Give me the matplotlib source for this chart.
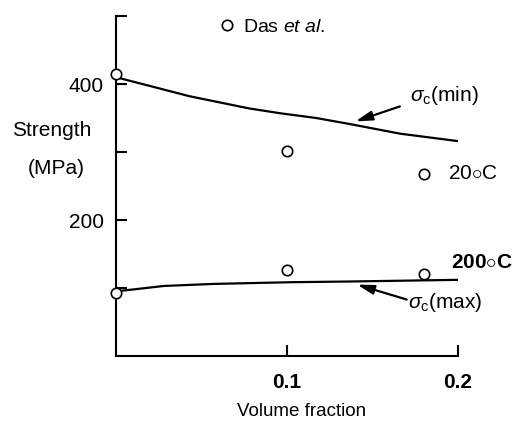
import matplotlib
matplotlib.use("Agg")
import matplotlib.pyplot as plt

plt.rcParams['font.family'] = ['Liberation Sans', 'DejaVu Sans']
plt.rcParams['mathtext.fontset'] = 'custom'
plt.rcParams['mathtext.rm'] = 'Liberation Sans'
plt.rcParams['mathtext.it'] = 'Liberation Sans:italic'
plt.rcParams['mathtext.bf'] = 'Liberation Sans:bold'

# measured points (Das et al.)
vf_20 = [0.0, 0.1, 0.18]
strength_20 = [415, 302, 268]
vf_200 = [0.0, 0.1, 0.18]
strength_200 = [92, 126, 121]

# model curves
vf_min = [0.0, 0.043, 0.078, 0.096, 0.117, 0.137, 0.166, 0.2]
sigma_min = [410, 382, 364, 357, 350, 341, 327, 316]
vf_max = [0.0, 0.028, 0.057, 0.102, 0.135, 0.2]
sigma_max = [95, 103, 106, 108.5, 109.5, 112]

yticks = [100, 200, 300, 400, 500]
ytick_labels = ['', '200', '', '400', '']
xticks = [0.1, 0.2]
xtick_labels = ['0.1', '0.2']

fig = plt.figure(figsize=(5.19, 4.22), dpi=100)
ax = fig.add_axes([116/519, 1-356/422, (458-116)/519, (356-16)/422])

ax.plot(vf_min, sigma_min, color='k', lw=1.6)
ax.plot(vf_max, sigma_max, color='k', lw=1.6)
pts = ax.plot(vf_20, strength_20, 'o', mfc='white', mec='k', ms=7.5, mew=1.2, clip_on=False, zorder=5)[0]
ax.plot(vf_200, strength_200, 'o', mfc='white', mec='k', ms=7.5, mew=1.2, clip_on=False, zorder=5)

ax.set_xlim(0, 0.2)
ax.set_ylim(0, 500)
ax.spines['top'].set_visible(False)
ax.spines['right'].set_visible(False)
for s in ['left', 'bottom']:
    ax.spines[s].set_linewidth(1.5)

ax.set_yticks(yticks)
ax.set_yticklabels(ytick_labels)
ax.set_xticks(xticks)
ax.set_xticklabels(xtick_labels, fontweight='bold')
ax.tick_params(direction='in', length=8, width=1.5, labelsize=15)
ax.tick_params(axis='y', pad=9)
ax.tick_params(axis='x', pad=12)

leg = ax.legend([pts], ['Das $\\it{et\\ al.}$'], loc='upper left',
                bbox_to_anchor=(0.245, 1.045), frameon=False, fontsize=14,
                handletextpad=0.3, handlelength=1.0)

arrow = dict(arrowstyle='-|>,head_length=1.0,head_width=0.28', color='k', lw=1.6,
             shrinkA=0, shrinkB=0)
ax.annotate('', xy=(0.14, 345), xytext=(0.166, 367), arrowprops=arrow)
ax.annotate('', xy=(0.141, 105), xytext=(0.17, 83), arrowprops=arrow)

ax.text(0.172, 383, r'$\sigma_{\rm c}$(min)', fontsize=15, va='center', ha='left')
ax.text(0.171, 78, r'$\sigma_{\rm c}$(max)', fontsize=15, va='center', ha='left')
ax.text(0.194, 268, r'20$\circ$C', fontsize=15, va='center', ha='left')
ax.text(0.196, 137, r'200$\circ$C', fontsize=15, va='center', ha='left', fontweight='bold')

fig.text(52/519, 1-130/422, 'Strength', fontsize=15, ha='center', va='center')
fig.text(56/519, 1-168/422, '(MPa)', fontsize=15, ha='center', va='center')
fig.text(302/519, 1-411/422, 'Volume fraction', fontsize=13.5, ha='center', va='center')

fig.savefig('out.png', dpi=100)
